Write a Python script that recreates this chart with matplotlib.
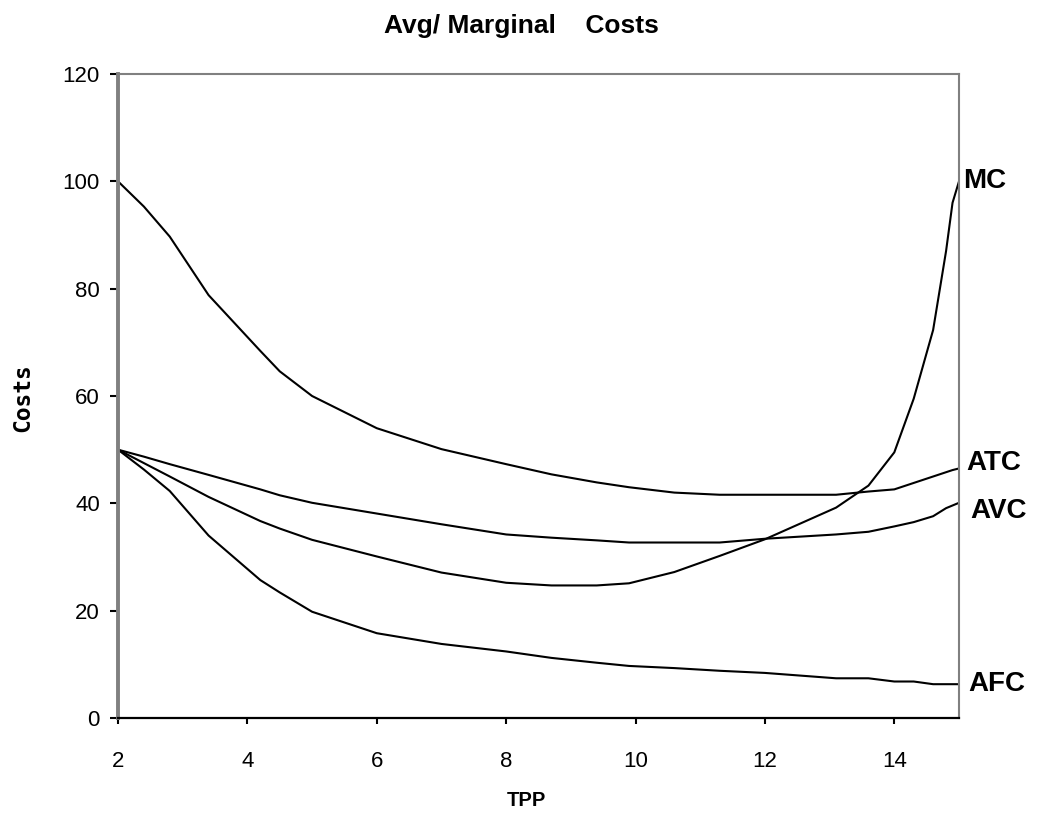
import matplotlib
matplotlib.use("Agg")
import matplotlib.pyplot as plt

plt.rcParams['font.family'] = ['Liberation Sans', 'DejaVu Sans']

# values
tpp = [2, 2.4, 2.8, 3.4, 4.2, 4.5, 5, 6, 7, 8, 8.7, 9.4, 9.9, 10.6, 11.3, 12,
       13.1, 13.6, 14, 14.3, 14.6, 14.8, 14.9, 15]
atc = [100, 95.3, 89.7, 78.8, 68.4, 64.6, 60, 54, 50.1, 47.3, 45.4, 43.9, 43.0,
       42.0, 41.6, 41.6, 41.6, 42.2, 42.6, 43.8, 45.0, 45.8, 46.2, 46.5]
avc = [50, 48.7, 47.3, 45.3, 42.6, 41.5, 40.1, 38.1, 36.1, 34.2, 33.6, 33.1, 32.7,
       32.7, 32.7, 33.4, 34.2, 34.7, 35.7, 36.5, 37.6, 39.1, 39.6, 40.1]
mc = [50, 47.5, 45.0, 41.2, 36.7, 35.3, 33.2, 30.1, 27.1, 25.2, 24.7, 24.7, 25.1,
      27.2, 30.2, 33.3, 39.2, 43.3, 49.5, 59.5, 72.3, 87, 96, 100]
afc = [50, 46.3, 42.3, 34, 25.7, 23.4, 19.8, 15.8, 13.8, 12.4, 11.2, 10.3, 9.7,
       9.3, 8.8, 8.4, 7.4, 7.4, 6.8, 6.8, 6.3, 6.3, 6.3, 6.3]

x_ticks = [2, 4, 6, 8, 10, 12, 14]
y_ticks = [0, 20, 40, 60, 80, 100, 120]

fig = plt.figure(figsize=(10.5, 8.19), dpi=100)
ax = fig.add_axes([118 / 1050, 1 - 718 / 819, (959 - 118) / 1050, (718 - 74) / 819])

series = [("MC", mc, (3, 0)), ("ATC", atc, (5, 4)), ("AVC", avc, (8, -6)), ("AFC", afc, (7, 0))]
for name, vals, off in series:
    ax.plot(tpp, vals, color="black", linewidth=1.5, solid_joinstyle="round")
    ax.annotate(name, xy=(tpp[-1], vals[-1]), xytext=off, textcoords="offset points",
                ha="left", va="center", fontsize=20, fontweight="bold", annotation_clip=False)

ax.set_xlim(2, 15)
ax.set_ylim(0, 120)
ax.set_xticks(x_ticks)
ax.set_yticks(y_ticks)
ax.tick_params(axis="x", direction="out", length=4, width=1.5, pad=20, labelsize=16)
ax.tick_params(axis="y", direction="out", length=6, width=1.5, pad=7, labelsize=16)

ax.spines["bottom"].set_color("black")
ax.spines["bottom"].set_linewidth(1.6)
ax.spines["left"].set_color("#808080")
ax.spines["left"].set_linewidth(2.8)
ax.spines["top"].set_color("#808080")
ax.spines["top"].set_linewidth(1.5)
ax.spines["right"].set_color("#808080")
ax.spines["right"].set_linewidth(1.5)

fig.text(0.497, 1 - 26 / 819, "Avg/ Marginal    Costs", ha="center", va="center",
         fontsize=19, fontweight="bold")
fig.text(526 / 1050, 1 - 800 / 819, "TPP", ha="center", va="center",
         fontsize=14.5, fontweight="bold")
fig.text(23 / 1050, 1 - 398 / 819, "Costs", ha="center", va="center", rotation=90,
         fontsize=16.5, fontweight="bold", family=["DejaVu Sans Mono", "DejaVu Sans"])

fig.savefig("out.png", dpi=100)
